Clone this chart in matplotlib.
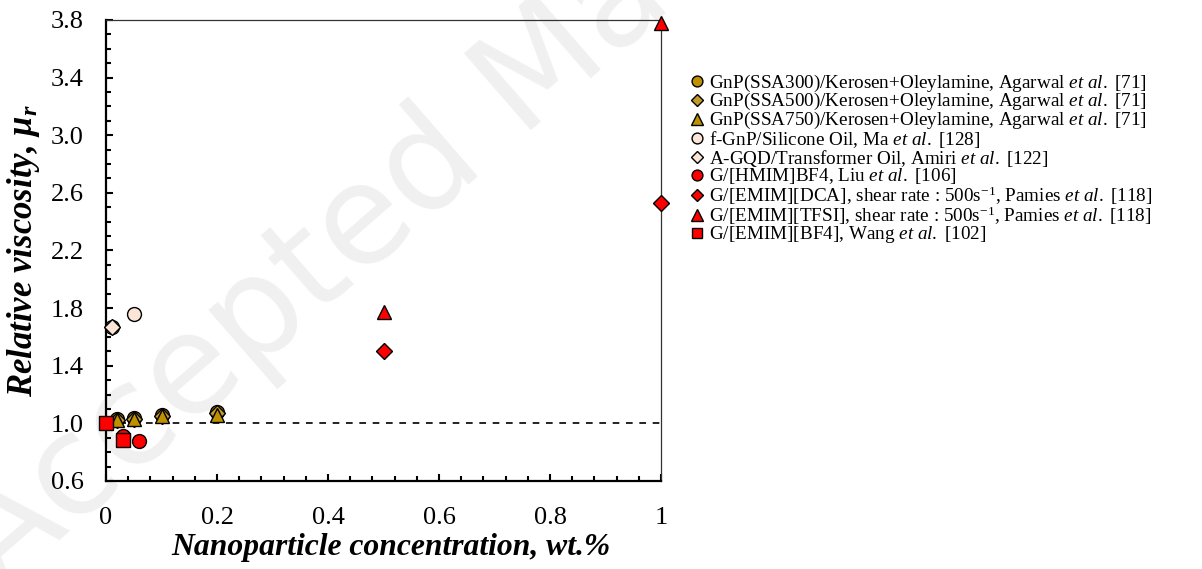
import matplotlib
matplotlib.use("Agg")
import matplotlib.pyplot as plt
from matplotlib.ticker import MultipleLocator

plt.rcParams["font.family"] = ["Liberation Serif", "DejaVu Serif"]
plt.rcParams["mathtext.fontset"] = "custom"
plt.rcParams["mathtext.rm"] = "Liberation Serif"
plt.rcParams["mathtext.it"] = "Liberation Serif:italic"
plt.rcParams["mathtext.bf"] = "Liberation Serif:italic:bold"

# data
ssa300_x = [0.02, 0.05, 0.1, 0.2]
ssa300_y = [1.03, 1.04, 1.06, 1.08]
ssa500_x = [0.02, 0.05, 0.1, 0.2]
ssa500_y = [1.02, 1.03, 1.05, 1.07]
ssa750_x = [0.02, 0.05, 0.1, 0.2]
ssa750_y = [1.02, 1.03, 1.05, 1.06]
fgnp_x = [0.01, 0.05]
fgnp_y = [1.67, 1.76]
agqd_x = [0.01]
agqd_y = [1.67]
hmim_x = [0.03, 0.06]
hmim_y = [0.91, 0.88]
dca_x = [0.5, 1.0]
dca_y = [1.50, 2.53]
tfsi_x = [0.5, 1.0]
tfsi_y = [1.77, 3.78]
bf4_x = [0.0, 0.03]
bf4_y = [1.0, 0.885]

labels = [
    r"GnP(SSA300)/Kerosen+Oleylamine, Agarwal $\mathit{et\ al.}$ [71]",
    r"GnP(SSA500)/Kerosen+Oleylamine, Agarwal $\mathit{et\ al.}$ [71]",
    r"GnP(SSA750)/Kerosen+Oleylamine, Agarwal $\mathit{et\ al.}$ [71]",
    r"f-GnP/Silicone Oil, Ma $\mathit{et\ al.}$ [128]",
    r"A-GQD/Transformer Oil, Amiri $\mathit{et\ al.}$ [122]",
    r"G/[HMIM]BF4, Liu $\mathit{et\ al.}$ [106]",
    r"G/[EMIM][DCA], shear rate : 500s$^{\mathrm{-1}}$, Pamies $\mathit{et\ al.}$ [118]",
    r"G/[EMIM][TFSI], shear rate : 500s$^{\mathrm{-1}}$, Pamies $\mathit{et\ al.}$ [118]",
    r"G/[EMIM][BF4], Wang $\mathit{et\ al.}$ [102]",
]

gold = "#BF9000"
gold2 = "#C49A28"
peach = "#FBE5D6"
red = "#FF0000"

fig = plt.figure(figsize=(12.02, 5.69), dpi=100)
ax = fig.add_axes([0.0882, 0.1547, 0.4618, 0.8102])
ax.patch.set_alpha(0)
ax.set_zorder(2)

# faint watermark behind everything
fig.text(0.0, -0.04, "Accepted Manuscript", family="DejaVu Sans",
         fontsize=100, color="#f0f0f0", rotation=41, rotation_mode="anchor",
         ha="left", va="baseline", zorder=0)

ax.plot([0, 1], [1, 1], ls=(0, (4, 4)), color="black", lw=1.2, zorder=1)

series = [
    (ssa300_x, ssa300_y, "o", gold, 10),
    (ssa500_x, ssa500_y, "D", gold2, 8),
    (ssa750_x, ssa750_y, "^", gold, 10.5),
    (fgnp_x, fgnp_y, "o", peach, 10),
    (agqd_x, agqd_y, "D", peach, 8),
    (hmim_x, hmim_y, "o", red, 10),
    (dca_x, dca_y, "D", red, 8),
    (tfsi_x, tfsi_y, "^", red, 10.5),
    (bf4_x, bf4_y, "s", red, 10),
]
handles = []
for (x, y, m, c, s), lab in zip(series, labels):
    h, = ax.plot(x, y, ls="none", marker=m, markersize=s, markerfacecolor=c,
                 markeredgecolor="black", markeredgewidth=1.0, label=lab,
                 zorder=3, clip_on=False)
    handles.append(h)

ax.set_xlim(0, 1)
ax.set_ylim(0.6, 3.8)
ax.xaxis.set_minor_locator(MultipleLocator(0.04))
ax.yaxis.set_minor_locator(MultipleLocator(0.1))
ax.set_xticks([0, 0.2, 0.4, 0.6, 0.8, 1.0])
ax.set_xticklabels(["0", "0.2", "0.4", "0.6", "0.8", "1"])
ax.set_yticks([0.6, 1.0, 1.4, 1.8, 2.2, 2.6, 3.0, 3.4, 3.8])
ax.set_yticklabels(["0.6", "1.0", "1.4", "1.8", "2.2", "2.6", "3.0", "3.4", "3.8"])
ax.tick_params(which="both", direction="in", labelsize=19, width=1.5)
ax.tick_params(axis="y", which="both", pad=16)
ax.tick_params(axis="x", which="both", pad=19)
ax.tick_params(which="major", length=5)
ax.tick_params(which="minor", length=3.5)

for side in ["left", "bottom"]:
    ax.spines[side].set_linewidth(1.6)
for side in ["top", "right"]:
    ax.spines[side].set_linewidth(0.9)
    ax.spines[side].set_color("#333333")

ax.set_xlabel("Nanoparticle concentration, wt.%", fontsize=22.8,
              fontweight="bold", style="italic")
ax.xaxis.set_label_coords(0.513, -0.112)
ax.set_ylabel(r"Relative viscosity, $\mathbf{\mu_r}$", fontsize=25,
              fontweight="bold", style="italic", labelpad=6)

fig.legend(handles=handles, loc="upper left", bbox_to_anchor=(0.569, 0.886),
           frameon=False, fontsize=13.8, markerscale=0.78, handlelength=0.55,
           handletextpad=0.36, labelspacing=-0.12, borderaxespad=0)

fig.savefig("out.png", dpi=100)
